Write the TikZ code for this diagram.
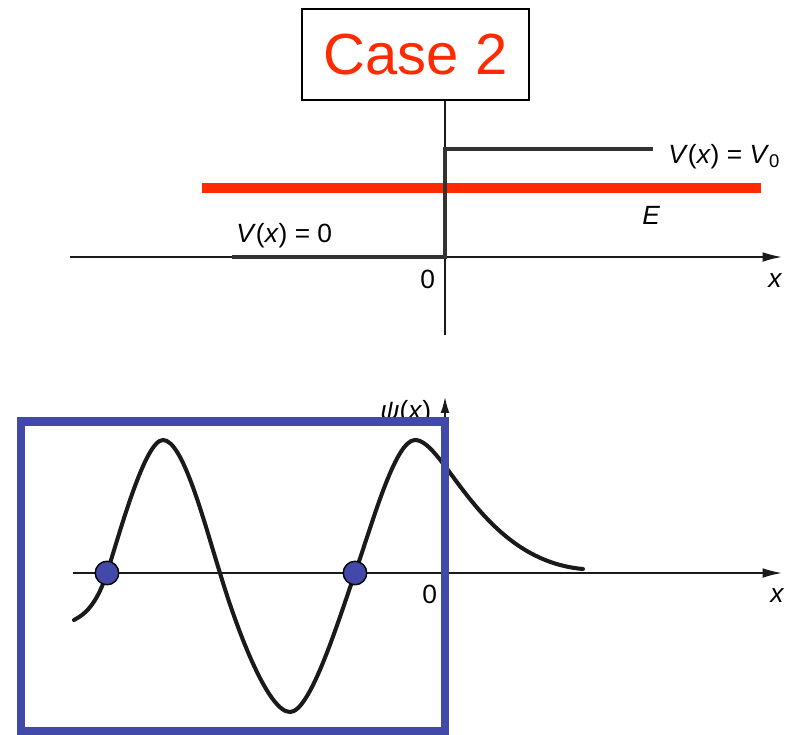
\documentclass[tikz,border=0pt]{standalone}
\usepackage{fontspec}
\setmainfont{Liberation Sans}
\usepackage{xcolor}
\definecolor{casered}{HTML}{FF2A00}
\definecolor{zoneblue}{HTML}{4349A9}
\definecolor{inkdark}{HTML}{1a1a1a}
\definecolor{stepgray}{HTML}{333333}
\usetikzlibrary{
  arrows.meta,
  positioning,
}

\begin{document}
\begin{tikzpicture}[
  x=0.02cm, y=-0.02cm,
  casebox/.style={
    draw=black, line width=1.1pt, fill=white, inner sep=0pt,
    minimum width=4.54cm, minimum height=1.82cm,
    font=\fontsize{33}{36}\selectfont, text=casered,
  },
  axis/.style={
    -{Latex[length=11pt,width=5.5pt]}, line width=0.9pt, color=inkdark,
  },
  axisline/.style={line width=0.9pt, color=inkdark},
  potential/.style={line width=2.1pt, color=stepgray},
  energy/.style={line width=6.2pt, color=casered},
  wave/.style={line width=2.3pt, color=inkdark, line cap=round},
  zone/.style={line width=4.6pt, color=zoneblue},
  zero/.style={
    circle, draw=black, line width=0.8pt, fill=zoneblue,
    minimum size=0.47cm, inner sep=0pt,
  },
  lbl/.style={font=\fontsize{15}{18}\selectfont, inner sep=0pt, anchor=base west},
]
  \useasboundingbox (0,0) rectangle (788,734);

  % Case label
  \node[casebox] (case) at (415.5,54.5) {Case 2};

  % Energy level
  \coordinate (eleft) at (202,188);
  \coordinate (eright) at (761,188);
  \draw[energy] (eleft) -- (eright);

  % Potential axes
  \coordinate (vorigin) at (445,257);
  \coordinate (vbot) at (445,335);
  \coordinate (vxleft) at (70,257);
  \coordinate (vxright) at (782,257);
  \draw[axisline] (case.south -| vorigin) -- (vbot);
  \draw[axis] (vxleft) -- (vxright);

  % Step potential
  \coordinate (stepleft) at (232,257);
  \coordinate (stepright) at (653,149);
  \draw[potential] (stepleft) -- (vorigin) |- (stepright);

  % Labels
  \node[lbl] (vnought) at (668,163)
    {\textit{V}(\textit{x}) = \textit{V}\textsubscript{0}};
  \node[lbl] (energylbl) at (642,224) {\textit{E}};
  \node[lbl] (vzero) at (236,242) {\textit{V}(\textit{x}) = 0};
  \node[lbl] (vorigin0) at (420,288) {0};
  \node[lbl] (vxlbl) at (768,287) {\textit{x}};

  % Wave function axes
  \coordinate (wxleft) at (73,573);
  \coordinate (wxright) at (782,573);
  \coordinate (worigin) at (445,573);
  \coordinate (wtop) at (445,397);
  \draw[axis] (wxleft) -- (wxright);
  \draw[axis, -{Latex[length=9pt,width=5pt]}] (worigin) -- (wtop);
  \node[lbl] (psilbl) at (380,419) {\textit{ψ}(\textit{x})};
  \node[lbl] (worigin0) at (422,603) {0};
  \node[lbl] (wxlbl) at (770,602) {\textit{x}};

  % Wave function
  \draw[wave] (74,620) .. controls (88,613) and (98,600) .. (107,573)
    .. controls (120,532) and (145,440) .. (163,440)
    .. controls (183,440) and (204,522) .. (220,573)
    .. controls (237,630) and (268,712) .. (290,712)
    .. controls (310,712) and (337,625) .. (355,573)
    .. controls (372,525) and (395,440) .. (415,440)
    .. controls (445,440) and (480,560) .. (583,569);

  % Oscillating region
  \coordinate (zonetl) at (21,421.5);
  \coordinate (zonebr) at (445,731);
  \draw[zone] (zonetl) rectangle (zonebr);
  \node[zero] (nodeleft) at (107,573) {};
  \node[zero] (noderight) at (355,573) {};
\end{tikzpicture}
\end{document}
